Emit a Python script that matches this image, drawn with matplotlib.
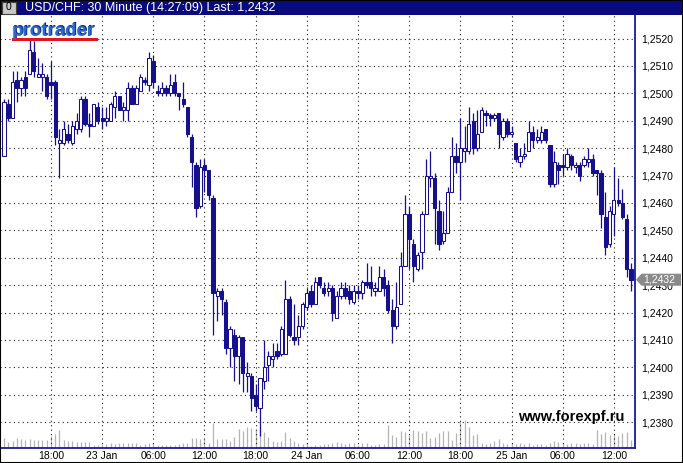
import numpy as np
import pandas as pd
import matplotlib
matplotlib.use("Agg")
import matplotlib.pyplot as plt
from matplotlib.patches import Rectangle, Polygon
from matplotlib.transforms import IdentityTransform

plt.rcParams['font.family'] = ['Liberation Sans', 'DejaVu Sans']

# USD/CHF, 30 minute bars, 22 Jan 12:30 .. 25 Jan 14:00
opens = [
    1.2477, 1.2496, 1.2491, 1.2505, 1.2502, 1.2506, 1.2507, 1.2515, 1.2506, 1.2506,
    1.2506, 1.2504, 1.2504, 1.2482, 1.2482, 1.2485, 1.2482, 1.2487, 1.2487, 1.2498,
    1.2489, 1.2488, 1.2495, 1.2491, 1.2490, 1.2490, 1.2495, 1.2499, 1.2494, 1.2494,
    1.2502, 1.2496, 1.2501, 1.2505, 1.2503, 1.2512, 1.2501, 1.2500, 1.2502, 1.2500,
    1.2504, 1.2500, 1.2498, 1.2495, 1.2484, 1.2474, 1.2459, 1.2474, 1.2472, 1.2462,
    1.2426, 1.2428, 1.2424, 1.2407, 1.2412, 1.2404, 1.2411, 1.2397, 1.2397, 1.2390,
    1.2385, 1.2395, 1.2401, 1.2403, 1.2406, 1.2405, 1.2405, 1.2425, 1.2411, 1.2411,
    1.2415, 1.2422, 1.2428, 1.2423, 1.2433, 1.2429, 1.2428, 1.2429, 1.2418, 1.2426,
    1.2429, 1.2428, 1.2424, 1.2428, 1.2427, 1.2431, 1.2431, 1.2428, 1.2428, 1.2433,
    1.2430, 1.2421, 1.2415, 1.2423, 1.2437, 1.2456, 1.2445, 1.2436, 1.2442, 1.2456,
    1.2469, 1.2469, 1.2457, 1.2446, 1.2449, 1.2464, 1.2477, 1.2475, 1.2479, 1.2479,
    1.2490, 1.2480, 1.2486, 1.2493, 1.2492, 1.2491, 1.2493, 1.2484, 1.2490, 1.2485,
    1.2482, 1.2475, 1.2477, 1.2479, 1.2486, 1.2483, 1.2483, 1.2487, 1.2481, 1.2467,
    1.2474, 1.2474, 1.2473, 1.2477, 1.2473, 1.2474, 1.2474, 1.2475, 1.2476, 1.2472,
    1.2471, 1.2455, 1.2445, 1.2456, 1.2461, 1.2460, 1.2454, 1.2436,
]
highs = [
    1.2498, 1.2498, 1.2508, 1.2508, 1.2506, 1.2508, 1.2520, 1.2519, 1.2513, 1.2511,
    1.2507, 1.2512, 1.2505, 1.2487, 1.2490, 1.2489, 1.2490, 1.2493, 1.2499, 1.2499,
    1.2493, 1.2496, 1.2497, 1.2495, 1.2495, 1.2497, 1.2501, 1.2499, 1.2497, 1.2504,
    1.2503, 1.2503, 1.2507, 1.2506, 1.2515, 1.2514, 1.2503, 1.2504, 1.2503, 1.2507,
    1.2507, 1.2500, 1.2504, 1.2495, 1.2485, 1.2475, 1.2476, 1.2476, 1.2472, 1.2463,
    1.2429, 1.2429, 1.2425, 1.2415, 1.2414, 1.2412, 1.2411, 1.2402, 1.2398, 1.2394,
    1.2396, 1.2410, 1.2406, 1.2409, 1.2409, 1.2415, 1.2432, 1.2426, 1.2423, 1.2419,
    1.2424, 1.2429, 1.2430, 1.2433, 1.2433, 1.2431, 1.2431, 1.2430, 1.2428, 1.2431,
    1.2431, 1.2430, 1.2430, 1.2430, 1.2432, 1.2438, 1.2437, 1.2431, 1.2437, 1.2436,
    1.2432, 1.2425, 1.2431, 1.2442, 1.2463, 1.2459, 1.2447, 1.2442, 1.2457, 1.2476,
    1.2479, 1.2471, 1.2461, 1.2457, 1.2466, 1.2484, 1.2482, 1.2491, 1.2488, 1.2495,
    1.2493, 1.2494, 1.2495, 1.2494, 1.2493, 1.2493, 1.2493, 1.2491, 1.2491, 1.2488,
    1.2482, 1.2480, 1.2482, 1.2490, 1.2488, 1.2487, 1.2488, 1.2487, 1.2481, 1.2479,
    1.2475, 1.2478, 1.2480, 1.2478, 1.2475, 1.2475, 1.2477, 1.2480, 1.2478, 1.2472,
    1.2472, 1.2464, 1.2459, 1.2473, 1.2469, 1.2465, 1.2456, 1.2438,
]
lows = [
    1.2477, 1.2490, 1.2491, 1.2497, 1.2499, 1.2499, 1.2507, 1.2506, 1.2506, 1.2501,
    1.2498, 1.2498, 1.2481, 1.2469, 1.2481, 1.2482, 1.2481, 1.2485, 1.2486, 1.2488,
    1.2484, 1.2488, 1.2489, 1.2487, 1.2488, 1.2490, 1.2491, 1.2494, 1.2490, 1.2490,
    1.2496, 1.2496, 1.2501, 1.2503, 1.2501, 1.2502, 1.2499, 1.2499, 1.2499, 1.2499,
    1.2499, 1.2494, 1.2495, 1.2484, 1.2466, 1.2455, 1.2458, 1.2464, 1.2461, 1.2412,
    1.2417, 1.2419, 1.2405, 1.2400, 1.2395, 1.2394, 1.2391, 1.2391, 1.2384, 1.2384,
    1.2375, 1.2392, 1.2395, 1.2400, 1.2403, 1.2404, 1.2405, 1.2411, 1.2408, 1.2408,
    1.2414, 1.2421, 1.2422, 1.2423, 1.2429, 1.2426, 1.2426, 1.2417, 1.2418, 1.2425,
    1.2425, 1.2423, 1.2423, 1.2425, 1.2425, 1.2429, 1.2426, 1.2426, 1.2428, 1.2426,
    1.2420, 1.2409, 1.2414, 1.2423, 1.2437, 1.2436, 1.2431, 1.2435, 1.2436, 1.2456,
    1.2466, 1.2445, 1.2443, 1.2445, 1.2449, 1.2464, 1.2471, 1.2461, 1.2475, 1.2478,
    1.2478, 1.2479, 1.2486, 1.2488, 1.2488, 1.2490, 1.2480, 1.2483, 1.2484, 1.2484,
    1.2475, 1.2473, 1.2476, 1.2479, 1.2480, 1.2482, 1.2482, 1.2482, 1.2466, 1.2466,
    1.2467, 1.2470, 1.2472, 1.2472, 1.2471, 1.2468, 1.2473, 1.2473, 1.2470, 1.2463,
    1.2451, 1.2441, 1.2444, 1.2448, 1.2459, 1.2454, 1.2433, 1.2428,
]
closes = [
    1.2497, 1.2491, 1.2504, 1.2502, 1.2505, 1.2502, 1.2516, 1.2508, 1.2507, 1.2507,
    1.2499, 1.2503, 1.2484, 1.2483, 1.2487, 1.2483, 1.2488, 1.2490, 1.2498, 1.2489,
    1.2488, 1.2496, 1.2490, 1.2490, 1.2491, 1.2496, 1.2499, 1.2494, 1.2495, 1.2502,
    1.2496, 1.2502, 1.2506, 1.2504, 1.2513, 1.2504, 1.2500, 1.2502, 1.2500, 1.2503,
    1.2500, 1.2499, 1.2496, 1.2485, 1.2475, 1.2458, 1.2473, 1.2472, 1.2463, 1.2427,
    1.2428, 1.2425, 1.2407, 1.2414, 1.2404, 1.2411, 1.2398, 1.2398, 1.2389, 1.2386,
    1.2396, 1.2400, 1.2404, 1.2404, 1.2404, 1.2414, 1.2425, 1.2412, 1.2410, 1.2415,
    1.2423, 1.2427, 1.2423, 1.2431, 1.2430, 1.2427, 1.2429, 1.2420, 1.2426, 1.2429,
    1.2426, 1.2425, 1.2428, 1.2427, 1.2431, 1.2430, 1.2429, 1.2429, 1.2433, 1.2429,
    1.2421, 1.2415, 1.2422, 1.2437, 1.2456, 1.2447, 1.2437, 1.2441, 1.2456, 1.2470,
    1.2470, 1.2458, 1.2445, 1.2449, 1.2464, 1.2477, 1.2475, 1.2480, 1.2480, 1.2489,
    1.2480, 1.2485, 1.2494, 1.2492, 1.2491, 1.2492, 1.2485, 1.2490, 1.2485, 1.2486,
    1.2476, 1.2477, 1.2478, 1.2486, 1.2483, 1.2484, 1.2486, 1.2483, 1.2467, 1.2475,
    1.2472, 1.2473, 1.2478, 1.2474, 1.2474, 1.2470, 1.2476, 1.2476, 1.2471, 1.2471,
    1.2456, 1.2444, 1.2457, 1.2461, 1.2460, 1.2455, 1.2436, 1.2432,
]
# tick volume
volumes = [
    10, 6, 7, 10, 9, 8, 9, 8, 8, 8,
    8, 12, 14, 18, 8, 7, 7, 6, 6, 6,
    6, 3, 3, 4, 4, 5, 4, 5, 5, 5,
    5, 5, 3, 4, 5, 5, 3, 3, 3, 3,
    3, 4, 5, 5, 10, 10, 9, 9, 5, 25,
    9, 9, 9, 7, 11, 19, 17, 21, 20, 18,
    20, 16, 11, 7, 6, 7, 16, 10, 7, 5,
    4, 5, 2, 3, 3, 4, 4, 5, 6, 5,
    4, 5, 5, 3, 5, 5, 3, 3, 4, 4,
    23, 13, 11, 17, 16, 13, 18, 17, 15, 17,
    10, 11, 15, 17, 17, 8, 15, 27, 28, 21,
    13, 14, 5, 4, 5, 7, 9, 5, 4, 5,
    4, 5, 4, 5, 3, 4, 4, 3, 5, 7,
    6, 5, 4, 5, 5, 4, 5, 5, 4, 18,
    14, 16, 13, 14, 12, 15, 16, 8,
]

times = pd.date_range('2007-01-22 12:30', periods=len(closes), freq='30min')
price_ticks = [round(1.2380 + 0.001 * k, 4) for k in range(15)]

NAVY = '#16108c'
W, H = 683, 463

fig = plt.figure(figsize=(W / 100, H / 100), dpi=100, facecolor='white')
rect = [0 / W, (H - 448) / H, 635 / W, 433 / H]

# volume underneath
axv = fig.add_axes(rect)
axv.axis('off')
x = np.arange(len(closes))
axv.vlines(x, 0, volumes, color='#b4b4b4', lw=0.9)
axv.set_ylim(0, 433)

ax = fig.add_axes(rect)
ax.patch.set_visible(False)

o = np.array(opens); c = np.array(closes)
up = c >= o
ax.vlines(x, lows, highs, color=NAVY, lw=0.9, zorder=2)
ax.bar(x, np.abs(c - o), bottom=np.minimum(o, c), width=0.75,
       color=np.where(up, 'white', NAVY), edgecolor=NAVY, linewidth=0.75, zorder=3)

ax.set_xlim(-0.94, 147.95)
ax.set_ylim(1.237058, 1.252861)
axv.set_xlim(ax.get_xlim())

tick_idx = [i for i, t in enumerate(times) if t.minute == 0 and t.hour % 6 == 0]
tick_lbl = [times[i].strftime('%d %b') if times[i].hour == 0 else times[i].strftime('%H:%M')
            for i in tick_idx]
ax.set_xticks(tick_idx)
ax.set_xticklabels(tick_lbl, fontsize=7.5)
ax.set_yticks(price_ticks)
ax.set_yticklabels([f"{p:.4f}".replace('.', ',') for p in price_ticks], fontsize=7.5)
ax.yaxis.tick_right()
ax.tick_params(axis='both', length=0)
ax.tick_params(axis='y', pad=4.5)
ax.tick_params(axis='x', pad=2.5)
ax.grid(True, color='#202020', linestyle=(0, (1, 3)), linewidth=0.8)
ax.set_axisbelow(True)
for side in ['left', 'top']:
    ax.spines[side].set_visible(False)
for side in ['right', 'bottom']:
    ax.spines[side].set_color('#1a1a9a')
    ax.spines[side].set_linewidth(1.3)

# title bar
fig.add_artist(Rectangle((0, (H - 15) / H), 1, 15 / H, transform=fig.transFigure,
                         facecolor='#0a0a80', edgecolor='none', zorder=4))
fig.add_artist(Rectangle((2 / W, (H - 14) / H), 14 / W, 12 / H, transform=fig.transFigure,
                         facecolor='#c8c8c8', edgecolor='#404040', lw=0.8, zorder=5))
fig.text(9 / W, (H - 7.5) / H, '0', fontsize=7.5, ha='center', va='center', zorder=6)
fig.text(25 / W, (H - 7.8) / H, 'USD/CHF: 30 Minute (14:27:09) Last: 1,2432',
         fontsize=9, color='white', va='center', zorder=6)

# logo
fig.text(13 / W, (H - 35) / H, 'protrader', fontsize=13.5, weight='bold',
         color='#0c2c78', va='baseline', zorder=5)
fig.text(12 / W, (H - 36) / H, 'protrader', fontsize=13.5, weight='bold',
         color='#2a6ad0', va='baseline', zorder=6)
fig.add_artist(Rectangle((11.5 / W, (H - 41) / H), 86 / W, 3.5 / H,
                         transform=fig.transFigure, facecolor='#e0161c',
                         edgecolor='none', zorder=6))

# watermark
fig.text(518 / W, (H - 420.5) / H, 'www.forexpf.ru', fontsize=10.5, weight='bold',
         color='black', va='baseline', zorder=6)

# last price tag (covers part of the 1,2430 label, as in the terminal)
yd = ax.transData.transform((0, closes[-1]))[1]
fig.add_artist(Polygon([(636, yd), (641.5, yd + 6), (681, yd + 6), (681, yd - 6),
                        (641.5, yd - 6)], closed=True, transform=IdentityTransform(),
                       facecolor='#8a8a8a', edgecolor='none', zorder=7))
fig.text(643, yd, f"{closes[-1]:.4f}".replace('.', ','), transform=IdentityTransform(),
         fontsize=7.5, color='white', va='center', zorder=8)

# outer frame
fig.add_artist(Rectangle((0, 0), 1, 1, transform=fig.transFigure, fill=False,
                         edgecolor='black', lw=1.5, zorder=9))

fig.savefig('out.png', dpi=100, facecolor='white')
